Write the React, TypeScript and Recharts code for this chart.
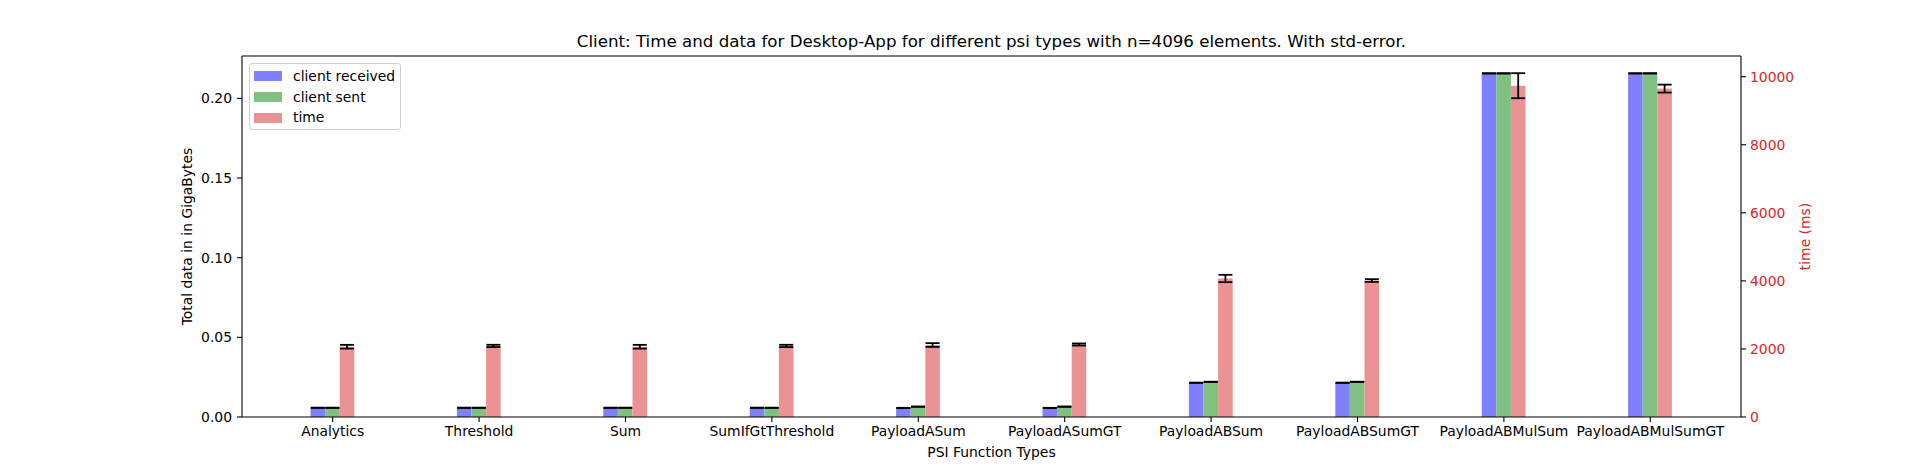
import React from 'react';
import { BarChart, Bar, XAxis, YAxis, ErrorBar, Legend, ReferenceLine } from 'recharts';

const categories = ['Analytics', 'Threshold', 'Sum', 'SumIfGtThreshold', 'PayloadASum', 'PayloadASumGT', 'PayloadABSum', 'PayloadABSumGT', 'PayloadABMulSum', 'PayloadABMulSumGT'];
const clientReceived = [0.0058, 0.0058, 0.0058, 0.0058, 0.0057, 0.0057, 0.0215, 0.0215, 0.2157, 0.2157];
const clientReceivedErr = [0.00006, 0.00006, 0.00006, 0.00006, 0.00006, 0.00006, 0.00006, 0.00006, 0.00006, 0.00006];
const clientSent = [0.0058, 0.0058, 0.0058, 0.0058, 0.0065, 0.0065, 0.0221, 0.0221, 0.2157, 0.2157];
const clientSentErr = [0.00006, 0.00006, 0.00006, 0.00006, 0.00006, 0.00006, 0.00006, 0.00006, 0.00006, 0.00006];
const timeMs = [2065, 2088, 2065, 2088, 2115, 2131, 4070, 4010, 9735, 9650];
const timeErr = [55, 34, 55, 34, 55, 30, 108, 40, 368, 117];

const leftTicks = [0, 0.05, 0.1, 0.15, 0.2];
const rightTicks = [0, 2000, 4000, 6000, 8000, 10000];
const LEFT_MAX = 0.2266;
const RIGHT_MAX = 10608;

const data = categories.map((name, i) => ({
  name,
  received: clientReceived[i],
  receivedErr: clientReceivedErr[i],
  sent: clientSent[i],
  sentErr: clientSentErr[i],
  time: timeMs[i],
  timeErr: timeErr[i],
}));

const FONT = '"DejaVu Sans", sans-serif';
const FS = 13.9;
const BLUE = '#8080ff';
const GREEN = '#80c080';
const RED = '#eb9394';
const TAB_RED = '#d62728';

const legendItems = [
  { label: 'client received', color: BLUE },
  { label: 'client sent', color: GREEN },
  { label: 'time', color: RED },
];

const LegendBox = () => (
  <div
    style={{
      width: 152,
      height: 67,
      border: '1px solid #d0d0d0',
      borderRadius: 3,
      background: 'rgba(255,255,255,0.8)',
      fontFamily: FONT,
      fontSize: FS,
      color: '#000',
      boxSizing: 'border-box',
      paddingTop: 2,
    }}
  >
    {legendItems.map((it) => (
      <div key={it.label} style={{ display: 'flex', alignItems: 'center', height: 20.8, paddingLeft: 4 }}>
        <div style={{ width: 28, height: 10, background: it.color, marginRight: 11 }} />
        <span style={{ lineHeight: '15px' }}>{it.label}</span>
      </div>
    ))}
  </div>
);

export default function App() {
  return (
    <div style={{ position: 'absolute', left: 0, top: 0, width: 1932, height: 468, background: '#fff' }}>
      <div
        style={{
          position: 'absolute',
          left: 242,
          width: 1499,
          top: 31,
          textAlign: 'center',
          fontFamily: FONT,
          fontSize: 16.67,
          lineHeight: '21px',
          color: '#000',
        }}
      >
        Client: Time and data for Desktop-App for different psi types with n=4096 elements. With std-error.
      </div>
      <BarChart
        width={1932}
        height={468}
        data={data}
        margin={{ top: 56, right: 0, bottom: 0, left: 0 }}
        barGap={0}
        barSize={14.6}
        style={{ fontFamily: FONT }}
      >
        <XAxis
          dataKey="name"
          height={51}
          padding={{ left: 17.5, right: 17.5 }}
          axisLine={{ stroke: '#000', strokeWidth: 1.1 }}
          tickLine={{ stroke: '#000', strokeWidth: 1.1 }}
          tickSize={5}
          tickMargin={4}
          interval={0}
          tick={{ fill: '#000', fontSize: FS, fontFamily: FONT }}
          label={(p: any) => {
            const vb = p.viewBox;
            return (
              <text x={vb.x + vb.width / 2} y={vb.y + 40} textAnchor="middle" fontSize={FS} fontFamily={FONT} fill="#000">
                PSI Function Types
              </text>
            );
          }}
        />
        <YAxis
          yAxisId="left"
          orientation="left"
          width={242}
          domain={[0, LEFT_MAX]}
          ticks={leftTicks}
          allowDataOverflow
          tickFormatter={(v: number) => v.toFixed(2)}
          axisLine={{ stroke: '#000', strokeWidth: 1.1 }}
          tickLine={{ stroke: '#000', strokeWidth: 1.1 }}
          tickSize={5}
          tickMargin={5}
          tick={{ fill: '#000', fontSize: FS, fontFamily: FONT }}
          label={(p: any) => {
            const vb = p.viewBox;
            const x = vb.x + vb.width - 55;
            const y = vb.y + vb.height / 2;
            return (
              <text x={x} y={y} transform={`rotate(-90 ${x} ${y})`} textAnchor="middle" dominantBaseline="central" fontSize={FS} fontFamily={FONT} fill="#000">
                Total data in in GigaBytes
              </text>
            );
          }}
        />
        <YAxis
          yAxisId="right"
          orientation="right"
          width={191}
          domain={[0, RIGHT_MAX]}
          ticks={rightTicks}
          allowDataOverflow
          axisLine={{ stroke: '#000', strokeWidth: 1.1 }}
          tickLine={{ stroke: '#000', strokeWidth: 1.1 }}
          tickSize={5}
          tickMargin={4}
          tick={{ fill: TAB_RED, fontSize: FS, fontFamily: FONT }}
          label={(p: any) => {
            const vb = p.viewBox;
            const x = vb.x + 64;
            const y = vb.y + vb.height / 2;
            return (
              <text x={x} y={y} transform={`rotate(-90 ${x} ${y})`} textAnchor="middle" dominantBaseline="central" fontSize={FS} fontFamily={FONT} fill={TAB_RED}>
                time (ms)
              </text>
            );
          }}
        />
        <ReferenceLine yAxisId="left" y={LEFT_MAX} stroke="#000" strokeWidth={1.1} ifOverflow="visible" />
        <Legend
          layout="vertical"
          align="center"
          verticalAlign="middle"
          wrapperStyle={{ position: 'absolute', left: 249, top: 63, width: 152, height: 67 }}
          content={() => <LegendBox />}
        />
        <Bar yAxisId="left" dataKey="received" name="client received" fill={BLUE} isAnimationActive={false}>
          <ErrorBar dataKey="receivedErr" width={7} stroke="#000" strokeWidth={1.8} direction="y" />
        </Bar>
        <Bar yAxisId="left" dataKey="sent" name="client sent" fill={GREEN} isAnimationActive={false}>
          <ErrorBar dataKey="sentErr" width={7} stroke="#000" strokeWidth={1.8} direction="y" />
        </Bar>
        <Bar yAxisId="right" dataKey="time" name="time" fill={RED} isAnimationActive={false}>
          <ErrorBar dataKey="timeErr" width={7} stroke="#000" strokeWidth={1.8} direction="y" />
        </Bar>
      </BarChart>
    </div>
  );
}
